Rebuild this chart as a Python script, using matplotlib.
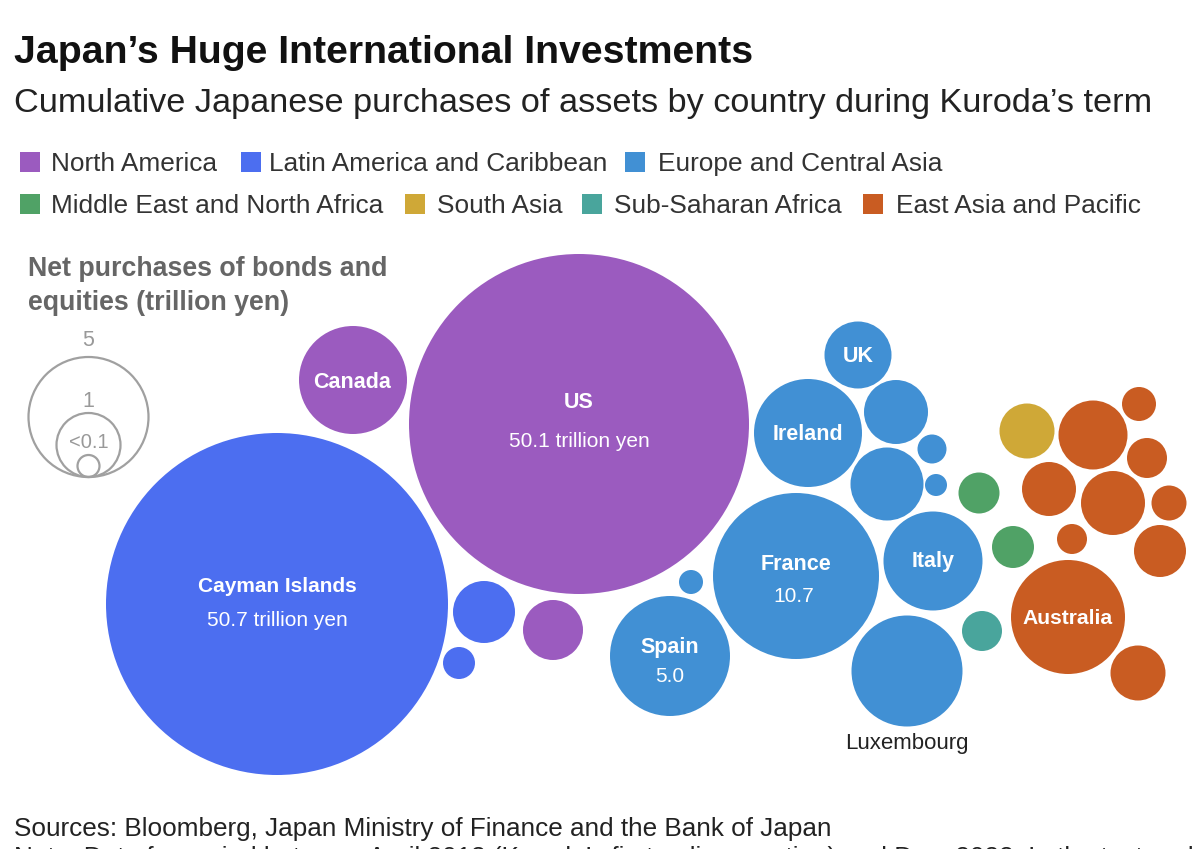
import matplotlib
matplotlib.use('Agg')
import matplotlib.pyplot as plt
from matplotlib.patches import Circle, Rectangle

plt.rcParams['font.family'] = ['Liberation Sans', 'DejaVu Sans']

# region names and their colours
regions = ['North America', 'Latin America and Caribbean', 'Europe and Central Asia',
           'Middle East and North Africa', 'South Asia', 'Sub-Saharan Africa', 'East Asia and Pacific']
region_colors = ['#9B5BBF', '#4C6EF0', '#4190D4', '#50A266', '#CFA837', '#49A59C', '#C95C22']
legend_x = [20, 241, 625, 20, 405, 582, 863]
legend_text_x = [51, 269, 658, 51, 437, 614, 896]
legend_y = [162, 162, 162, 204, 204, 204, 204]

# bubbles (position on the chart and radius)
bubble_region = [1, 0, 0, 1, 1, 0,
                 2, 2, 2, 2, 2, 2, 2, 2, 2, 2, 2,
                 3, 3, 5, 4,
                 6, 6, 6, 6, 6, 6, 6, 6, 6, 6]
bubble_x = [277, 579, 353, 484, 459, 553,
            858, 896, 932, 887, 936, 808, 933, 796, 907, 691, 670,
            979, 1013, 982, 1027,
            1068, 1138, 1093, 1139, 1147, 1049, 1113, 1169, 1072, 1160]
bubble_y = [604, 424, 380, 612, 663, 630,
            355, 412, 449, 484, 485, 433, 561, 576, 671, 582, 656,
            493, 547, 631, 431,
            617, 673, 435, 404, 458, 489, 503, 503, 539, 551]
bubble_r = [171, 170, 54, 31, 16, 30,
            33.5, 32, 14.5, 36.5, 11, 54, 49.5, 83, 55.5, 12, 60,
            20.5, 21, 20, 27.5,
            57, 27.5, 34.5, 17, 20, 27, 32, 17.5, 15, 26]

# bubble names: label, x, y, font size
names = [('Cayman Islands', 277, 586, 15), ('US', 579, 402, 15.5), ('Canada', 352, 382, 15.5),
         ('UK', 858, 356, 15.5), ('Ireland', 808, 434, 15.5), ('Italy', 933, 562, 15.5),
         ('France', 796, 565, 15.5), ('Spain', 670, 648, 15.5), ('Australia', 1068, 618, 15.2)]
values = [('50.7 trillion yen', 277, 621), ('50.1 trillion yen', 579, 441),
          ('10.7', 794, 596), ('5.0', 670, 677)]

# size key
key_labels = ['5', '1', '<0.1']
key_r = [60, 32, 11]
key_label_y = [340, 401, 442]

fig = plt.figure(figsize=(12, 8.49), dpi=100)
ax = fig.add_axes([0, 0, 1, 1])
ax.set_xlim(0, 1200)
ax.set_ylim(849, 0)
ax.axis('off')

ax.text(14, 53, 'Japan\u2019s Huge International Investments', fontsize=28.3, fontweight='bold',
        color='#111111', va='center')
ax.text(14, 103, 'Cumulative Japanese purchases of assets by country during Kuroda\u2019s term',
        fontsize=24.7, color='#222222', va='center')

for i in range(len(regions)):
    ax.add_patch(Rectangle((legend_x[i], legend_y[i] - 10), 20, 20, color=region_colors[i], lw=0))
    ax.text(legend_text_x[i], legend_y[i] + 2, regions[i], fontsize=18.9, color='#333333', va='center')

ax.text(28, 269.5, 'Net purchases of bonds and', fontsize=19.3, fontweight='bold', color='#666666', va='center')
ax.text(28, 302.5, 'equities (trillion yen)', fontsize=19.3, fontweight='bold', color='#666666', va='center')

# key circles sit on one baseline
for r, label, y in zip(key_r, key_labels, key_label_y):
    ax.add_patch(Circle((88.5, 477 - r), r, fill=False, ec='#A0A0A0', lw=1.6))
    ax.text(88.5, y, label, fontsize=14.5 if label == '<0.1' else 15.5, color='#999999', ha='center', va='center')

for reg, x, y, r in zip(bubble_region, bubble_x, bubble_y, bubble_r):
    ax.add_patch(Circle((x, y), r, color=region_colors[reg], lw=0))

for label, x, y, size in names:
    ax.text(x, y, label, fontsize=size, fontweight='bold', color='white', ha='center', va='center')
for label, x, y in values:
    ax.text(x, y, label, fontsize=15, color='white', ha='center', va='center')

ax.text(907, 743, 'Luxembourg', fontsize=16, color='#222222', ha='center', va='center')

ax.text(14, 829, 'Sources: Bloomberg, Japan Ministry of Finance and the Bank of Japan',
        fontsize=18.8, color='#222222', va='center')
# second footer line is cut by the bottom edge in the original too
ax.text(14, 858.5, 'Note: Data for period between April 2013 (Kuroda\u2019s first policy meeting) and Dec. 2022. In the text and',
        fontsize=18.8, color='#222222', va='center', clip_on=True)

fig.savefig('out.png', dpi=100)
